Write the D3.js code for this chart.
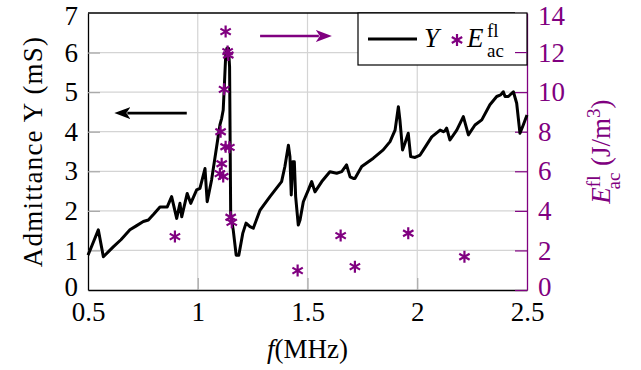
<!DOCTYPE html>
<html>
<head>
<meta charset="utf-8">
<script src="https://cdn.jsdelivr.net/npm/d3@7"></script>
<style>
  body { margin: 0; background: #fff; }
  text { font-family: 'Liberation Serif', 'DejaVu Serif', serif; }
</style>
</head>
<body>
<div id="svg"></div>
<script>
//admittance curve (f in MHz, Y in mS)
let freq = [0.500, 0.520, 0.547, 0.570, 0.615, 0.650, 0.691, 0.720, 0.752, 0.775, 0.800, 0.828, 0.861, 0.881, 0.904, 0.919, 0.927, 0.952, 0.968, 0.995,
  1.010, 1.033, 1.043, 1.063, 1.086, 1.101, 1.109, 1.116, 1.123, 1.128, 1.133, 1.140, 1.145, 1.150, 1.162, 1.175, 1.187, 1.205, 1.220, 1.238,
  1.253, 1.284, 1.329, 1.382, 1.397, 1.413, 1.420, 1.426, 1.433, 1.440, 1.446, 1.458, 1.466, 1.481, 1.504, 1.519, 1.534, 1.565, 1.602, 1.633,
  1.656, 1.678, 1.694, 1.709, 1.716, 1.747, 1.800, 1.845, 1.876, 1.899, 1.914, 1.921, 1.933, 1.944, 1.959, 1.970, 1.990, 2.013, 2.028, 2.066,
  2.104, 2.119, 2.126, 2.134, 2.149, 2.180, 2.210, 2.233, 2.263, 2.294, 2.331, 2.362, 2.380, 2.392, 2.400, 2.415, 2.438, 2.453, 2.468, 2.483, 2.500];
let admittance = [0.88, 1.15, 1.52, 0.84, 1.09, 1.27, 1.52, 1.62, 1.73, 1.77, 1.92, 2.10, 2.10, 2.36, 1.81, 2.19, 1.85, 2.44, 2.19, 2.53,
  2.57, 3.07, 2.23, 2.78, 3.62, 4.17, 4.34, 4.55, 5.39, 6.00, 6.11, 6.11, 5.64, 1.94, 1.50, 0.88, 0.88, 1.43, 1.69, 1.60,
  1.56, 2.02, 2.36, 2.74, 3.12, 3.66, 3.37, 2.40, 3.24, 3.24, 2.36, 1.64, 1.77, 2.23, 2.53, 2.74, 2.48, 2.74, 2.99, 2.95,
  2.99, 3.16, 2.86, 2.82, 2.82, 3.12, 3.33, 3.54, 3.75, 4.04, 4.63, 4.30, 3.54, 3.71, 3.96, 3.37, 3.35, 3.41, 3.54, 3.87,
  4.04, 4.00, 4.02, 4.09, 3.79, 4.04, 4.38, 3.92, 4.17, 4.30, 4.68, 4.89, 4.93, 5.01, 4.89, 4.89, 5.01, 4.72, 3.96, 4.17, 4.42];

//acoustic energy markers (f in MHz, E in J/m^3)
let energyFreq = [0.896, 1.127, 1.136, 1.139, 1.120, 1.104, 1.127, 1.144, 1.109, 1.101, 1.116, 1.150, 1.155, 1.455, 1.651, 1.716, 1.959, 2.215];
let energy = [2.70, 13.06, 12.05, 11.88, 10.14, 8.00, 7.24, 7.21, 6.38, 5.88, 5.74, 3.68, 3.42, 0.98, 2.75, 1.18, 2.87, 1.68];

//ticks
let xTicks = [0.5, 1, 1.5, 2, 2.5];
let yTicks = [0, 1, 2, 3, 4, 5, 6, 7];
let eTicks = [0, 2, 4, 6, 8, 10, 12, 14];

//annotation arrows: [from f, to f, value on own axis]
let leftArrow = [0.95, 0.62, 4.47];
let rightArrow = [1.284, 1.611, 12.84];

let w = 641;
let h = 370;
let pLeft = 88, pRight = 527, pTop = 13, pBottom = 290;
let purple = '#800080';
let fs = 27;

let svg = d3.select('#svg').
append('svg').
attr('width', w).
attr('height', h);

let xScale = d3.scaleLinear().domain([0.5, 2.5]).range([pLeft, pRight]);
let yScale = d3.scaleLinear().domain([0, 7]).range([pBottom, pTop]);
let eScale = d3.scaleLinear().domain([0, 14]).range([pBottom, pTop]);

//grid
svg.append('g').
selectAll('line').
data(yTicks.slice(1, -1)).
enter().
append('line').
attr('x1', pLeft).attr('x2', pRight).
attr('y1', d => yScale(d)).attr('y2', d => yScale(d)).
attr('stroke', '#d4d4d4').attr('stroke-width', 1.2);

svg.append('g').
selectAll('line').
data(xTicks.slice(1, -1)).
enter().
append('line').
attr('x1', d => xScale(d)).attr('x2', d => xScale(d)).
attr('y1', pTop).attr('y2', pBottom).
attr('stroke', '#d4d4d4').attr('stroke-width', 1.2);

//axes
let xAxis = d3.axisBottom(xScale).tickValues(xTicks).tickFormat(d3.format('')).
tickSizeInner(-12).tickSizeOuter(0).tickPadding(12);
let gx = svg.append('g').attr('transform', 'translate(0,' + pBottom + ')').call(xAxis);

let yAxis = d3.axisLeft(yScale).tickValues(yTicks).tickFormat(d3.format('d')).
tickSizeInner(-12).tickSizeOuter(0).tickPadding(10);
let gy = svg.append('g').attr('transform', 'translate(' + pLeft + ',0)').call(yAxis);

let eAxis = d3.axisRight(eScale).tickValues(eTicks).tickFormat(d3.format('d')).
tickSizeInner(-12).tickSizeOuter(0).tickPadding(11);
let ge = svg.append('g').attr('transform', 'translate(' + pRight + ',0)').call(eAxis);

[gx, gy].forEach(g => {
  g.select('.domain').attr('stroke', '#000').attr('stroke-width', 1.3);
  g.selectAll('.tick line').attr('stroke', '#a8a8a8').attr('stroke-width', 1.2);
  g.selectAll('.tick text').attr('font-size', fs).attr('fill', '#000').style('font-family', "'Liberation Serif', serif");
});
gx.selectAll('.tick line').filter(d => d == 0.5 || d == 2.5).remove();
gy.selectAll('.tick line').filter(d => d == 0 || d == 7).remove();

ge.select('.domain').attr('stroke', purple).attr('stroke-width', 1.3);
ge.selectAll('.tick line').attr('stroke', purple).attr('stroke-width', 1.2);
ge.selectAll('.tick text').attr('font-size', fs).attr('fill', purple).style('font-family', "'Liberation Serif', serif");

//zero labels sit a touch higher, clear of the x tick labels; top labels a touch lower
gy.selectAll('.tick text').filter(d => d == 0).attr('dy', '0.22em');
ge.selectAll('.tick text').filter(d => d == 0).attr('dy', '0.22em');
gy.selectAll('.tick text').filter(d => d == 7).attr('dy', '0.42em');
ge.selectAll('.tick text').filter(d => d == 14).attr('dy', '0.42em');

//top frame
svg.append('line').
attr('x1', pLeft).attr('x2', pRight - 12).
attr('y1', pTop).attr('y2', pTop).
attr('stroke', '#000').attr('stroke-width', 1.3);

//curve
let line = d3.line().
x((d, i) => xScale(freq[i])).
y((d, i) => yScale(admittance[i]));

svg.append('path').
datum(admittance).
attr('d', line).
attr('fill', 'none').
attr('stroke', '#000').
attr('stroke-width', 3).
attr('stroke-linejoin', 'round');

//asterisk mark
let r = 6;
let c = Math.cos(Math.PI / 6) * r, s = Math.sin(Math.PI / 6) * r;
let star = `M0,${-r}L0,${r}M${-c},${-s}L${c},${s}M${-c},${s}L${c},${-s}`;

svg.append('g').
selectAll('path').
data(energy).
enter().
append('path').
attr('d', star).
attr('transform', (d, i) => 'translate(' + xScale(energyFreq[i]) + ',' + eScale(d) + ')').
attr('fill', 'none').
attr('stroke', purple).
attr('stroke-width', 2.2);

//arrows
let defs = svg.append('defs');
[['headBlack', '#000'], ['headPurple', purple]].forEach(a => {
  defs.append('marker').
  attr('id', a[0]).
  attr('viewBox', '0 -6 16 12').
  attr('refX', 3).attr('refY', 0).
  attr('markerWidth', 16).attr('markerHeight', 12).
  attr('markerUnits', 'userSpaceOnUse').
  attr('orient', 'auto').
  append('path').
  attr('d', 'M0,-6L16,0L0,6L4,0Z').
  attr('fill', a[1]);
});

svg.append('line').
attr('x1', xScale(leftArrow[0])).attr('x2', xScale(leftArrow[1]) + 13).
attr('y1', yScale(leftArrow[2])).attr('y2', yScale(leftArrow[2])).
attr('stroke', '#000').attr('stroke-width', 2.6).
attr('marker-end', 'url(#headBlack)');

svg.append('line').
attr('x1', xScale(rightArrow[0])).attr('x2', xScale(rightArrow[1]) - 13).
attr('y1', eScale(rightArrow[2])).attr('y2', eScale(rightArrow[2])).
attr('stroke', purple).attr('stroke-width', 2.6).
attr('marker-end', 'url(#headPurple)');

//legend
let lg = svg.append('g');
lg.append('rect').
attr('x', 358).attr('y', pTop).
attr('width', pRight - 358).attr('height', 52).
attr('fill', '#fff').attr('stroke', '#000').attr('stroke-width', 1.2);
lg.append('line').
attr('x1', 368).attr('x2', 417).attr('y1', 39).attr('y2', 39).
attr('stroke', '#000').attr('stroke-width', 3);
lg.append('text').
attr('x', 424).attr('y', 47).attr('font-size', fs).attr('font-style', 'italic').
text('Y');
lg.append('path').
attr('d', star).
attr('transform', 'translate(457,40)').
attr('fill', 'none').attr('stroke', purple).attr('stroke-width', 2.2);
let le = lg.append('text').attr('x', 467).attr('y', 47).attr('font-size', fs);
le.append('tspan').attr('font-style', 'italic').text('E');
le.append('tspan').attr('x', 487).attr('y', 37).attr('font-size', 19).text('fl');
le.append('tspan').attr('x', 487).attr('y', 57).attr('font-size', 19).text('ac');

//the legend box hides the right-axis tick at 12, redraw it
svg.append('line').
attr('x1', pRight - 12).attr('x2', pRight).
attr('y1', eScale(12)).attr('y2', eScale(12)).
attr('stroke', purple).attr('stroke-width', 1.2);

//axis labels
svg.append('text').
attr('x', (pLeft + pRight) / 2).attr('y', 358).
attr('text-anchor', 'middle').attr('font-size', fs).
html('<tspan font-style="italic">f</tspan>(MHz)');

svg.append('text').
attr('transform', 'translate(42,' + (pTop + pBottom) / 2 + ') rotate(-90)').
attr('text-anchor', 'middle').attr('font-size', fs).
attr('letter-spacing', 1.2).
text('Admittance Y (mS)');

let el = svg.append('text').
attr('transform', 'translate(610,' + (pTop + pBottom) / 2 + ') rotate(-90)').
attr('text-anchor', 'middle').attr('font-size', fs).
attr('fill', purple);
el.append('tspan').attr('font-style', 'italic').text('E');
el.append('tspan').attr('font-size', 19).attr('dy', -10).text('fl');
el.append('tspan').attr('font-size', 19).attr('dx', -14).attr('dy', 20).text('ac');
el.append('tspan').attr('dy', -10).text(' (J/m');
el.append('tspan').attr('font-size', 19).attr('dy', -10).text('3');
el.append('tspan').attr('dy', 10).text(')');
</script>
</body>
</html>
